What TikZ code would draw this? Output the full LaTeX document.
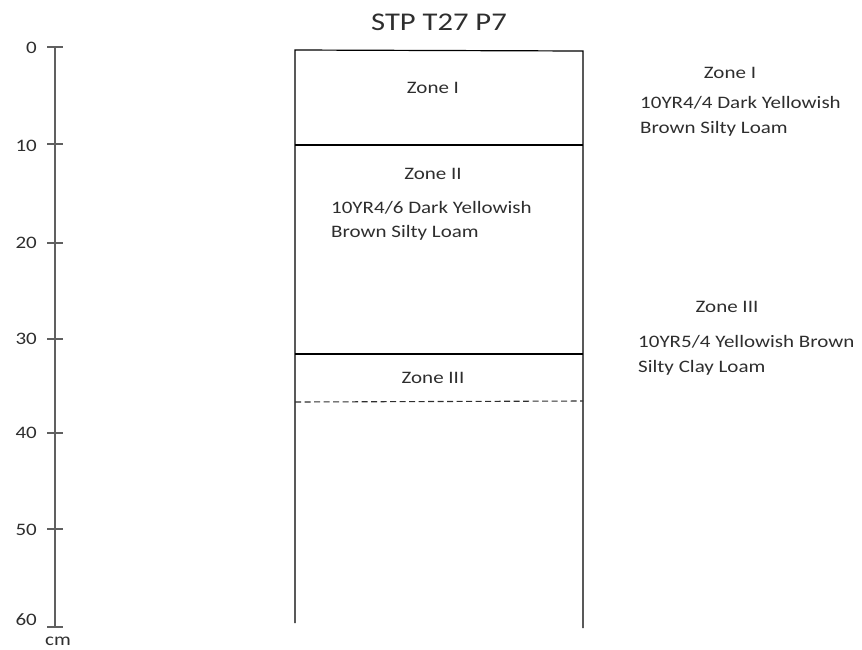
\documentclass[tikz,border=0pt]{standalone}
\usepackage{fontspec}
\setmainfont{Carlito}[FakeStretch=1.2]
\definecolor{txt}{HTML}{2E2E2E}
\definecolor{axis}{HTML}{606060}
\begin{document}
\begin{tikzpicture}[x=1pt,y=-1pt,
  lbl/.style={text=txt,font=\fontsize{17.5}{20}\selectfont,inner sep=0pt},
  lblL/.style={lbl,anchor=west},
  num/.style={lbl,anchor=east},
  boxline/.style={draw=black,line width=1.2pt},
  axisline/.style={draw=axis,line width=1.6pt}]
\useasboundingbox (0,0) rectangle (862,649);
% title
\node[text=txt,font=\fontsize{25.5}{30}\selectfont,inner sep=0pt] (title) at (439,22) {STP T27 P7};
% profile box
\coordinate (tl) at (295,50);
\coordinate (tr) at (583,51);
\coordinate (bl) at (295,623);
\coordinate (br) at (583,628);
\coordinate (z1l) at (295,145);
\coordinate (z1r) at (583,145);
\coordinate (z2l) at (295,354);
\coordinate (z2r) at (583,354);
\coordinate (z3l) at (295,402);
\coordinate (z3r) at (583,401);
\draw[boxline] (bl) -- (tl) -- (tr) -- (br);
\draw[boxline] (z1l) -- (z1r);
\draw[boxline] (z2l) -- (z2r);
\draw[boxline,line width=1.1pt,draw=txt,dash pattern=on 6pt off 3.5pt] (z3l) -- (z3r);
% texts inside
\node[lbl] (inz1) at (433,88) {Zone I};
\node[lbl] (inz2) at (433,174) {Zone II};
\node[lblL] (inz2a) at (331,208) {10YR4/6 Dark Yellowish};
\node[lblL] (inz2b) at (331,233) {Brown Silty Loam};
\node[lbl] (inz3) at (433,378) {Zone III};
% texts right
\node[lbl] (rz1) at (730,73) {Zone I};
\node[lblL] (rz1a) at (640,103) {10YR4/4 Dark Yellowish};
\node[lblL] (rz1b) at (640,129) {Brown Silty Loam};
\node[lbl] (rz3) at (727,307) {Zone III};
\node[lblL] (rz3a) at (638,342) {10YR5/4 Yellowish Brown};
\node[lblL] (rz3b) at (638,368) {Silty Clay Loam};
% depth scale
\coordinate (atop) at (55,47);
\coordinate (abot) at (55,627);
\draw[axisline] (atop) -- (abot);
\foreach \v/\y/\ly in {0/47/48,10/144/146,20/243/243,30/339/339,40/433/433,50/529/530,60/627/620}{
  \draw[axisline] (47,\y) -- (63,\y);
  \node[num] (n\v) at (37,\ly) {\v};
}
\node[lbl] (cm) at (58,641) {cm};
\end{tikzpicture}
\end{document}
